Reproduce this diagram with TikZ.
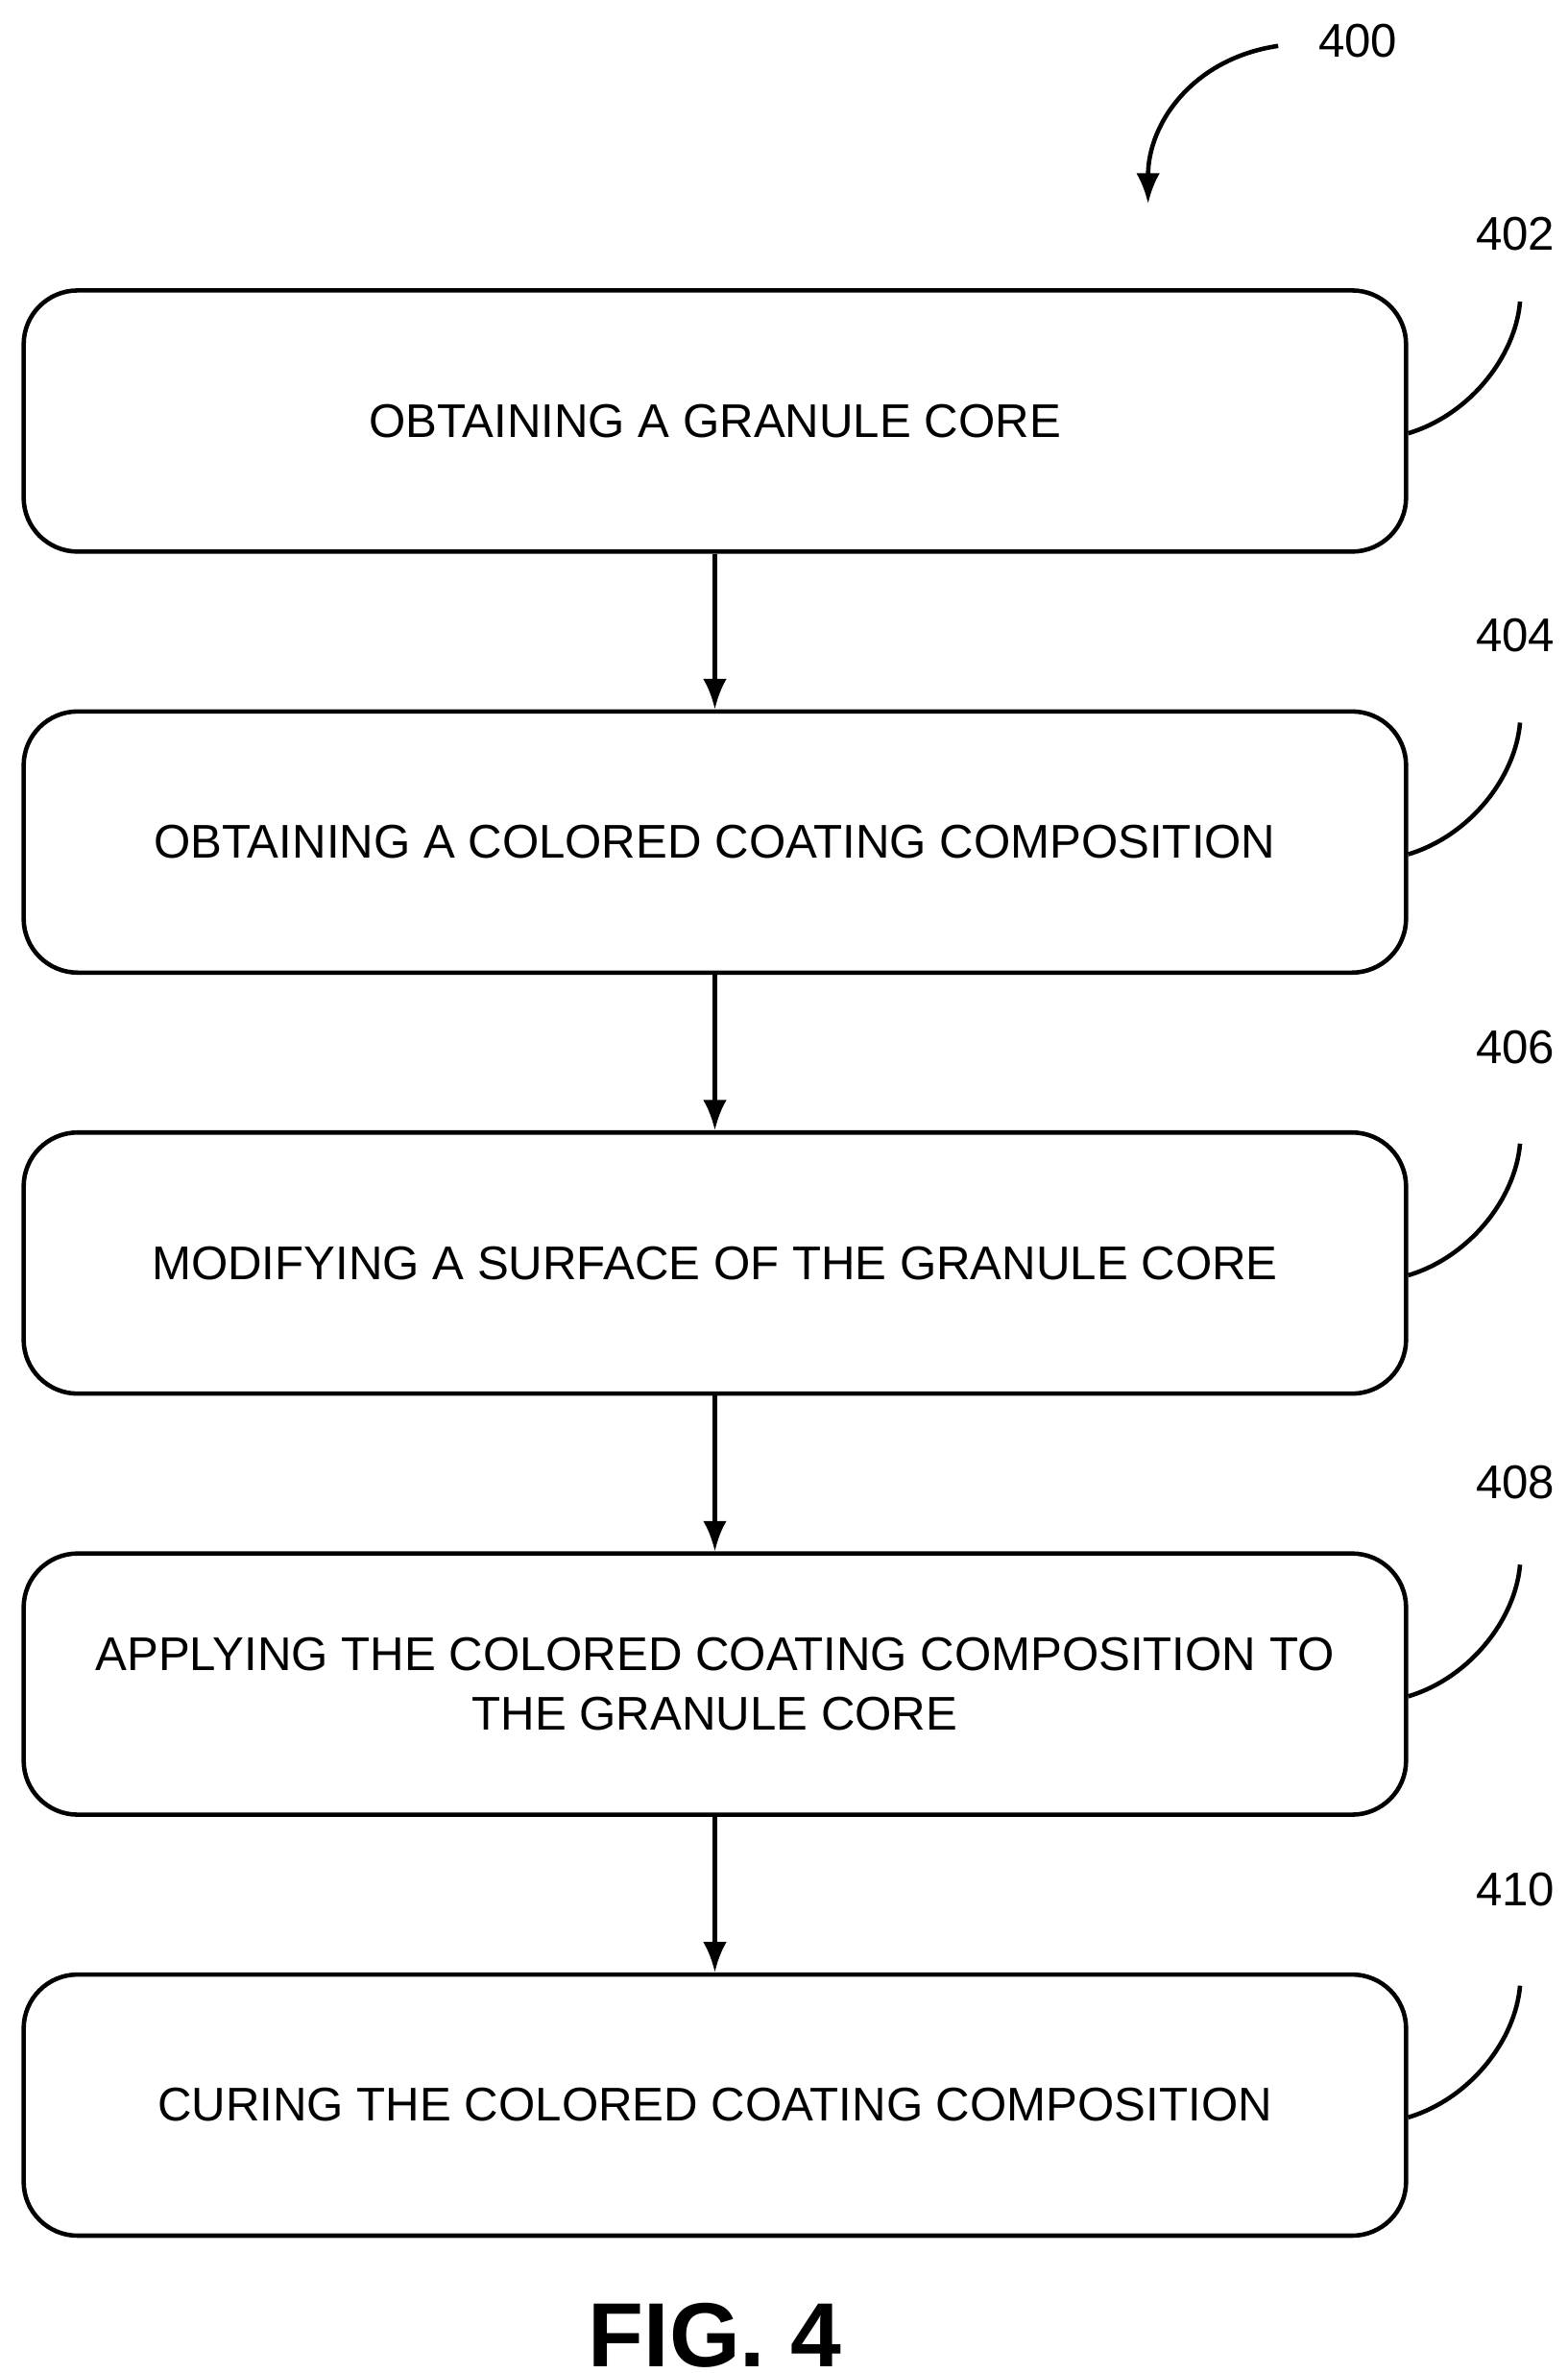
\documentclass[tikz,border=0pt]{standalone}
\usepackage{fontspec}
\setmainfont{Liberation Sans}
\usetikzlibrary{arrows.meta}
\begin{document}
\begin{tikzpicture}[x=0.01594cm,y=-0.01594cm,
    procbox/.style={draw,line width=1.3pt,rounded corners=16pt,minimum width=14.4cm,minimum height=2.72cm,align=center,font=\fontsize{14}{17.5}\selectfont},
    reflbl/.style={font=\fontsize{14}{17}\selectfont},
    hook/.style={line width=1.3pt}]
        \useasboundingbox (0,0) rectangle (1024,1550);
        % Steps
        \node[procbox] (s402) at (467,275) {OBTAINING A GRANULE CORE};
        \node[procbox] (s404) at (467,550) {OBTAINING A COLORED COATING COMPOSITION};
        \node[procbox] (s406) at (467,825) {MODIFYING A SURFACE OF THE GRANULE CORE};
        \node[procbox] (s408) at (467,1100) {APPLYING THE COLORED COATING COMPOSITION TO\\THE GRANULE CORE};
        \node[procbox] (s410) at (467,1375) {CURING THE COLORED COATING COMPOSITION};
        
        \foreach \a/\b in {s402/s404,s404/s406,s406/s408,s408/s410}
            \draw[line width=1.3pt,-{Latex[length=9pt,width=7pt]}] (\a) -- (\b);
        
        % Reference numbers
        \foreach \n/\y/\ly in {402/283/153,404/558/415,406/833/684,408/1108/968,410/1383/1234} {
            \node[reflbl] (l\n) at (990,\ly) {\n};
            \draw[hook] (s\n.east |- {0,\y}) .. controls (960,\y-12) and (990,\y-50) .. (993,\y-86);
        }
        
        \node[reflbl] (l400) at (887,27) {400};
        \coordinate (a400) at (750,133);
        \draw[hook,-{Latex[length=9pt,width=7pt]}] (835,30) .. controls (780,38) and (750,80) .. (a400);
        
        \node[anchor=base,inner sep=0pt,font=\bfseries\fontsize{27}{30}\selectfont] (fig) at (467,1546) {FIG. 4};
\end{tikzpicture}
\end{document}
